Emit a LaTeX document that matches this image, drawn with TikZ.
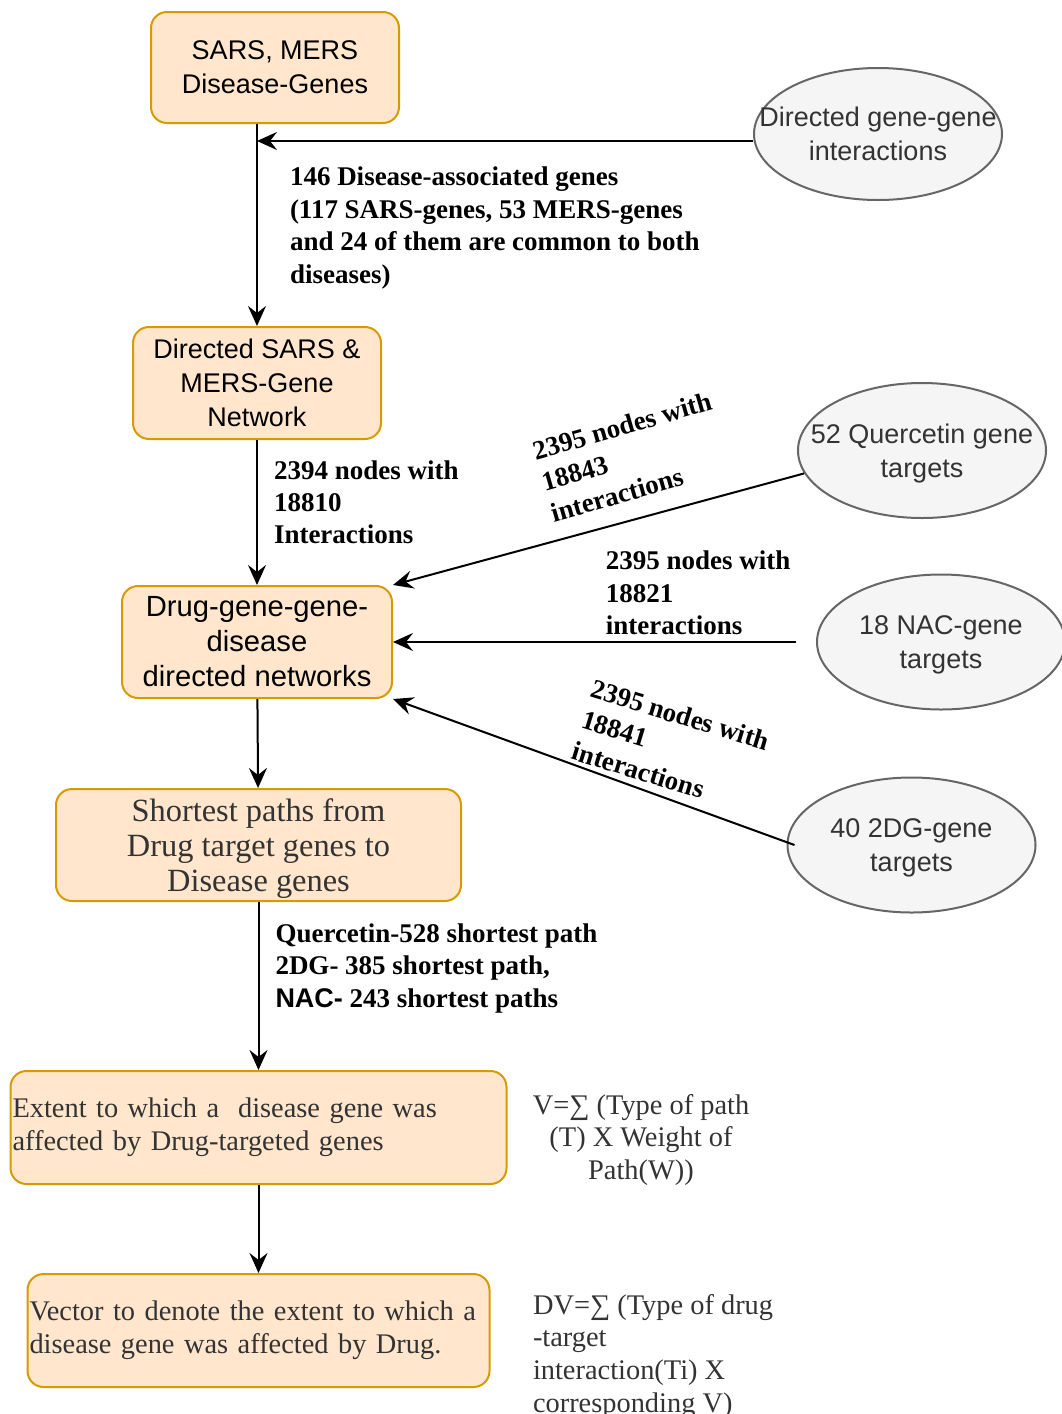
\documentclass[tikz,border=0pt]{standalone}
\usepackage{fontspec}
\setmainfont{Liberation Serif}
\setsansfont{Liberation Sans}
\usepackage{tikz}
\usetikzlibrary{shapes,arrows.meta}
\definecolor{boxfill}{HTML}{FFE6CC}
\definecolor{boxline}{HTML}{D79B00}
\definecolor{ovalfill}{HTML}{F5F5F5}
\definecolor{ovalline}{HTML}{666666}
\definecolor{darktext}{HTML}{333333}
\newcommand*{\SansText}{\sffamily\fontsize{13.5pt}{17pt}\selectfont}
\newcommand*{\BigSansText}{\sffamily\fontsize{14.6pt}{17.5pt}\selectfont}
\newcommand*{\SerifText}{\rmfamily\fontsize{14.2pt}{16.4pt}\selectfont}
\newcommand*{\BigSerifText}{\rmfamily\fontsize{16.2pt}{17.7pt}\selectfont}
\newcommand*{\EdgeText}{\rmfamily\bfseries\fontsize{13.5pt}{16.2pt}\selectfont}
\tikzstyle{block} = [draw=boxline, fill=boxfill, rectangle, rounded corners=8pt, line width=1pt, align=center, inner sep=1pt]
\tikzstyle{oval} = [draw=ovalline, fill=ovalfill, ellipse, line width=1pt, inner xsep=-16pt, inner ysep=0pt, minimum width=124pt, minimum height=67.5pt, text=darktext, font=\SansText, align=center, text depth=0pt]
\tikzstyle{edgetext} = [font=\EdgeText, align=left, inner sep=0pt]
\tikzstyle{formula} = [font=\SerifText, text=darktext, inner sep=0pt]

\begin{document}
\begin{tikzpicture}[auto, x=0.5pt, y=0.5pt, >={Stealth[length=10pt,width=9pt,inset=3.5pt]}, line width=1pt]
  \useasboundingbox (0,0) rectangle (1061,-1414);
  % main column
  \node [block, font=\SansText, minimum width=124pt, minimum height=55.5pt] at (275,-67.5) (sars) {SARS, MERS\\Disease-Genes};
  \node [block, font=\SansText, below of=sars, node distance=157.75pt, xshift=-9pt, minimum width=124pt, minimum height=56pt] (net) {Directed SARS \&\\MERS-Gene\\Network};
  \node [block, font=\BigSansText, below of=net, node distance=129.5pt, minimum width=135pt, minimum height=56pt] (dgg) {Drug-gene-gene-\\disease\\directed networks};
  \node [block, font=\BigSerifText, text=darktext, text depth=0pt, below of=dgg, node distance=101.5pt, xshift=0.75pt, minimum width=202.5pt, minimum height=56pt] (paths) {Shortest paths from\\Drug target genes to\\Disease genes};
  \node [block, font=\SerifText, text=darktext, below of=paths, node distance=141.25pt, align=left, text width=246pt, minimum height=56.5pt] (extent) {Extent to which a\ \ disease gene was\\affected by Drug-targeted genes};
  \node [block, font=\SerifText, text=darktext, below of=extent, node distance=101.5pt, align=left, text width=229pt, minimum height=56.5pt] (vector) {Vector to denote the extent to which a\\disease gene was affected by Drug.};

  % gene sources
  \node [oval, minimum height=66pt] at (878,-134) (ggi) {Directed gene-gene\\interactions};
  \node [oval] at (922,-450.5) (quer) {52 Quercetin gene\\targets};
  \node [oval, right of=dgg, node distance=342pt] (nac) {18 NAC-gene\\targets};
  \node [oval, right of=paths, node distance=326.5pt] (dg) {40 2DG-gene\\targets};

  % formulas
  \node [formula, align=center, anchor=north] at (641,-1093) (vform) {V=∑ (Type of path\\(T) X Weight of\\Path(W))};
  \node [formula, align=left, anchor=north west] at (532,-1293) (dvform) {DV=∑ (Type of drug\\-target\\interaction(Ti) X\\corresponding V)};

  % connectors
  \coordinate [yshift=-3.5pt] (ggiout) at (ggi.west);
  \draw [->] (sars.south -| net.north) -- node [edgetext, right=16pt, yshift=-1.5pt] (lbldis) {146 Disease-associated genes\\(117 SARS-genes, 53 MERS-genes\\and 24 of them are common to both\\diseases)} (net.north);
  \draw [->] (ggiout) -- (ggiout -| net.north);
  \draw [->] (net) -- node [edgetext, right=8pt, pos=0.43] (lblnet) {2394 nodes with\\18810\\Interactions} (dgg);
  \draw [->] (quer.191) -- (dgg.north east);
  \draw [->] ([xshift=-10pt]nac.west) -- node [edgetext, above=3pt, pos=0.243] (lblnac) {2395 nodes with\\18821\\interactions} (dgg.east);
  \draw [->] ([xshift=4pt]dg.west) -- (dgg.south east);
  \draw [->] (dgg) -- (paths);
  \draw [->] (paths) -- node [edgetext, right=8pt, pos=0.394] (lblpath) {Quercetin-528 shortest path\\2DG- 385 shortest path,\\{\sffamily NAC-} 243 shortest paths} (extent);
  \draw [->] (extent) -- (vector);

  \node [edgetext, rotate=16] at (631,-457) (lblquer) {2395 nodes with\\18843\\interactions};
  \node [edgetext, rotate=-17] at (671,-746) (lbldg) {2395 nodes with\\18841\\interactions};
\end{tikzpicture}
\end{document}
